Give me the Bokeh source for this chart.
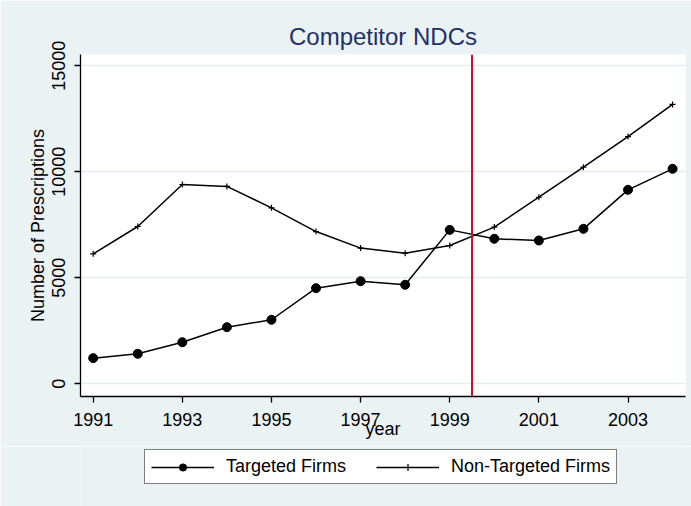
from bokeh.plotting import figure
from bokeh.layouts import column
from bokeh.models import (Legend, LegendItem, Span, FixedTicker, Range1d)
from bokeh.embed import file_html
from bokeh.resources import INLINE

# ---- data ----
years = [1991, 1992, 1993, 1994, 1995, 1996, 1997, 1998, 1999, 2000, 2001, 2002, 2003, 2004]
targeted = [1210, 1415, 1960, 2670, 3020, 4510, 4840, 4670, 7260, 6840, 6760, 7310, 9150, 10140]
non_targeted = [6130, 7420, 9400, 9310, 8300, 7180, 6400, 6160, 6520, 7390, 8800, 10220, 11660, 13180]
x_ticks = [1991, 1993, 1995, 1997, 1999, 2001, 2003]
y_ticks = [0, 5000, 10000, 15000]
event_year = 1999.5
title_text = "Competitor NDCs"
x_label = "year"
y_label = "Number of Prescriptions"
series_labels = ["Targeted Firms", "Non-Targeted Firms"]

BG = "#EAF2F3"
FONT = "Liberation Sans"

p = figure(frame_width=605, frame_height=342,
           output_backend="svg", toolbar_location=None,
           x_range=Range1d(1990.715, 2004.29), y_range=Range1d(-600, 15533),
           min_border_left=80, min_border_right=6, min_border_top=54,
           min_border_bottom=50)

p.background_fill_color = "white"
p.border_fill_color = BG
p.outline_line_color = None

# title
p.title.text = title_text
p.title.align = "center"
p.title.text_font = FONT
p.title.text_font_size = "24px"
p.title.text_font_style = "normal"
p.title.text_color = "#22316a"

# grids
p.xgrid.visible = False
p.ygrid.ticker = FixedTicker(ticks=y_ticks)
p.ygrid.grid_line_color = "#E3EDEF"
p.ygrid.grid_line_width = 1.5

# axes
for ax in (p.xaxis[0], p.yaxis[0]):
    ax.axis_line_color = "black"
    ax.axis_line_width = 1.3
    ax.major_tick_line_color = "black"
    ax.major_tick_line_width = 1.3
    ax.major_tick_in = 0
    ax.major_tick_out = 6
    ax.minor_tick_line_color = None
    ax.major_label_text_font = FONT
    ax.major_label_text_font_size = "18px"
    ax.major_label_text_color = "black"
    ax.axis_label_text_font = FONT
    ax.axis_label_text_font_size = "18px"
    ax.axis_label_text_font_style = "normal"
    ax.axis_label_text_color = "black"

p.xaxis.ticker = FixedTicker(ticks=x_ticks)
p.xaxis.axis_label = x_label
p.xaxis.major_label_standoff = 10
p.xaxis.axis_label_standoff = -10

p.yaxis.ticker = FixedTicker(ticks=y_ticks)
p.yaxis.axis_label = y_label
p.yaxis.major_label_orientation = "vertical"
p.yaxis.major_label_standoff = 9
p.yaxis.axis_label_standoff = 2

# series
l1 = p.line(years, targeted, line_color="black", line_width=1.5)
s1 = p.scatter(years, targeted, marker="circle", size=9, fill_color="black", line_color="black")
l2 = p.line(years, non_targeted, line_color="black", line_width=1.5)
s2 = p.scatter(years, non_targeted, marker="cross", size=6, line_color="black", line_width=1.2)

# event line
p.add_layout(Span(location=event_year, dimension="height", line_color="#C8102E", line_width=2))

# ---- legend strip (separate figure so the legend is not clipped) ----
q = figure(width=691, height=60, output_backend="svg", toolbar_location=None,
           x_range=Range1d(0, 1), y_range=Range1d(0, 1),
           x_axis_location=None, y_axis_location=None, min_border=0)
q.background_fill_color = BG
q.border_fill_color = BG
q.outline_line_color = None
q.grid.visible = False

# legend glyph renderers (data lies outside q's ranges, so only the legend shows)
ql1 = q.line(years, targeted, line_color="black", line_width=1.5)
qs1 = q.scatter(years, targeted, marker="circle", size=9, fill_color="black", line_color="black")
ql2 = q.line(years, non_targeted, line_color="black", line_width=1.5)
qs2 = q.scatter(years, non_targeted, marker="cross", size=6, line_color="black", line_width=1.2)

legend = Legend(items=[LegendItem(label=series_labels[0], renderers=[ql1, qs1]),
                       LegendItem(label=series_labels[1], renderers=[ql2, qs2])],
                orientation="horizontal", location=(64, 22))
legend.glyph_width = 63
legend.glyph_height = 18
legend.label_standoff = 12
legend.spacing = 30
legend.padding = 6
legend.margin = 0
legend.border_line_color = "black"
legend.border_line_width = 1.5
legend.background_fill_color = "white"
legend.background_fill_alpha = 1
legend.label_text_font = FONT
legend.label_text_font_size = "18px"
legend.label_text_color = "black"
q.add_layout(legend, "center")

layout = column(p, q, spacing=0)
open("out.html", "w").write(file_html(layout, INLINE))
